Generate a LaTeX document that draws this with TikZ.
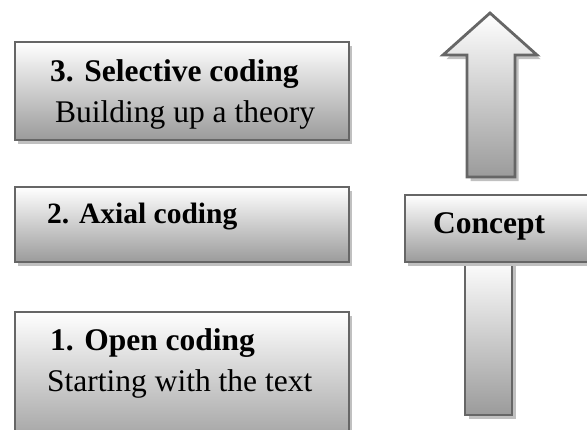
\documentclass[tikz,border=0pt]{standalone}
\usepackage{fontspec}
\setmainfont{Liberation Serif}
\usetikzlibrary{shadows}
\definecolor{boxgray}{RGB}{155,155,155}
\definecolor{edgegray}{RGB}{102,102,102}
\definecolor{shadowgray}{RGB}{192,192,192}
\tikzset{
  boxfill/.style={top color=white, bottom color=boxgray, draw=edgegray, line width=2.8pt,
    drop shadow={shadow xshift=3.5pt, shadow yshift=-4pt, fill=shadowgray, opacity=1}},
  codebox/.style={boxfill, rectangle, anchor=north west, inner sep=0pt},
  lbl/.style={anchor=base west, inner sep=0pt},
  bigbf/.style={font=\fontsize{31.5}{36}\selectfont\bfseries},
  bigrm/.style={font=\fontsize{31.5}{36}\selectfont},
}
\begin{document}
\begin{tikzpicture}[x=1pt,y=-1pt]
\useasboundingbox (0,0) rectangle (587,429);
\clip (0,0) rectangle (587,429);
% left boxes
\node[codebox, minimum width=334pt, minimum height=98pt] (b3) at (13.5,40.5) {};
\node[codebox, minimum width=334pt, minimum height=75pt] (b2) at (13.5,185.5) {};
\node[codebox, minimum width=334pt, minimum height=140pt] (b1) at (13.5,310.5) {};
\node[lbl, bigbf] (t3a) at (50,81) {3. Selective coding};
\node[lbl, bigrm] (t3b) at (55,122) {Building up a theory};
\node[lbl, font=\fontsize{29.5}{34}\selectfont\bfseries] (t2) at (47,223) {2. Axial coding};
\node[lbl, bigbf] (t1a) at (50,350) {1. Open coding};
\node[lbl, bigrm] (t1b) at (47,391) {Starting with the text};
% upward arrow
\draw[boxfill, line join=miter] (490,13) -- (537,55) -- (515,55) -- (515,177) -- (467,177) -- (467,55) -- (443,55) -- cycle;
\draw[boxfill] (465,258) rectangle (512,415);
\node[codebox, minimum width=200pt, minimum height=67pt] (con) at (403.5,193.5) {};
\node[lbl, font=\fontsize{31.5}{36}\selectfont\bfseries] (tc) at (433,233) {Concept};
\end{tikzpicture}
\end{document}
